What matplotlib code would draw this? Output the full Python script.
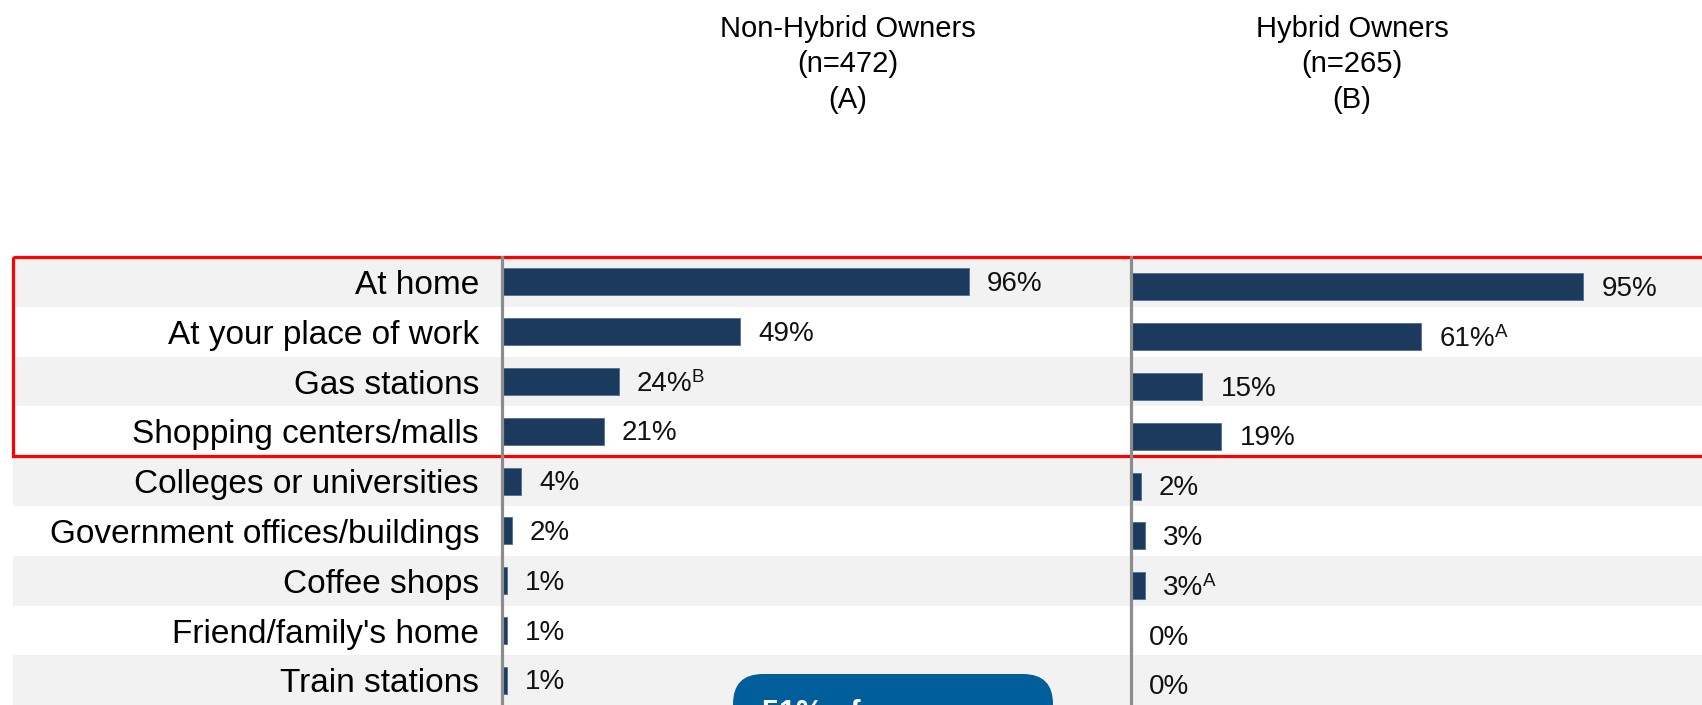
import matplotlib
matplotlib.use('Agg')
import matplotlib.pyplot as plt
from matplotlib.patches import Rectangle, FancyBboxPatch
import numpy as np

# ---------------- data ----------------
categories = ["At home", "At your place of work", "Gas stations", "Shopping centers/malls",
              "Colleges or universities", "Government offices/buildings", "Coffee shops",
              "Friend/family's home", "Train stations"]
non_hybrid = [96, 49, 24, 21, 4, 2, 1, 1, 1]
hybrid = [95, 61, 15, 19, 2, 3, 3, 0, 0]
non_hybrid_sig = ["", "", "B", "", "", "", "", "", ""]
hybrid_sig = ["", "A", "", "", "", "", "A", "", ""]
header_left = ["Non-Hybrid Owners", "(n=472)", "(A)"]
header_right = ["Hybrid Owners", "(n=265)", "(B)"]
callout_text = "51% of"

plt.rcParams['font.family'] = ['Liberation Sans', 'DejaVu Sans']

W, H = 1702, 705
fig = plt.figure(figsize=(W / 100, H / 100), dpi=100)
fig.patch.set_facecolor('white')

n = len(categories)
row_px = 49.8
top_px = 257
ax_h = n * row_px / H
y0 = (H - top_px) / H - ax_h

# background bands + red highlight box
bg = fig.add_axes([13 / W, y0, 1 - 13 / W, ax_h])
bg.set_xlim(0, 1)
bg.set_ylim(n - 0.5, -0.5)
bg.axis('off')
for i in range(n):
    if i % 2 == 0:
        bg.axhspan(i - 0.5, i + 0.5, color='#F2F2F2', lw=0)
bg.add_patch(Rectangle((0, -0.5), 1.05, 4, fill=False, edgecolor='#FF0000',
                       lw=2.3, clip_on=False, zorder=5))

BAR = '#1B3A5E'


def panel(left_px, px_per_pct, values, sigs, yshift, show_labels):
    ax = fig.add_axes([left_px / W, y0, 100 * px_per_pct / W, ax_h])
    ax.patch.set_visible(False)
    y = np.arange(n)
    ax.barh(y, values, height=0.54, color=BAR, edgecolor='#4F6F96', linewidth=0.6)
    ax.set_xlim(0, 100)
    ax.set_ylim(n - 0.5 + yshift, -0.5 + yshift)
    for s in ['top', 'right', 'bottom']:
        ax.spines[s].set_visible(False)
    ax.spines['left'].set_color('#8C8C8C')
    ax.spines['left'].set_linewidth(2.3)
    ax.spines['left'].set_zorder(6)
    ax.set_xticks([])
    ax.set_yticks(y)
    if show_labels:
        ax.set_yticklabels(categories, fontsize=24, color='black')
    else:
        ax.set_yticklabels([])
    ax.tick_params(axis='y', length=0, pad=16.5)
    for i, (v, sg) in enumerate(zip(values, sigs)):
        t = ax.annotate(f"{v}%", xy=(v, i), xytext=(13, -1.5), textcoords='offset points',
                        va='center', ha='left', fontsize=20, color='#111111')
        if sg:
            ax.annotate(sg, xy=(1, 0.57), xycoords=t, xytext=(-0.3, 0),
                        textcoords='offset points', va='baseline', ha='left',
                        fontsize=13.5, color='#111111')
    return ax


panel(502, 4.86, non_hybrid, non_hybrid_sig, 0.0, True)
panel(1131, 4.76, hybrid, hybrid_sig, -0.1, False)

# headers
for cx, lines in [(848, header_left), (1352, header_right)]:
    for ly, txt in zip([29, 64, 100], lines):
        fig.text(cx / W, 1 - ly / H, txt, ha='center', va='center', fontsize=21, color='black')

# callout bubble (cut off at bottom, as in the reference)
box = FancyBboxPatch((7.33, -0.6), 3.2, 0.91, boxstyle="round,pad=0,rounding_size=0.3",
                     transform=fig.dpi_scale_trans, facecolor='#005F9A', edgecolor='none',
                     zorder=10)
fig.add_artist(box)
fig.text(7.62, -0.17, callout_text, transform=fig.dpi_scale_trans, ha='left', va='baseline',
         fontsize=22, fontweight='bold', color='white', zorder=11)

fig.savefig('out.png', dpi=100, facecolor='white')
